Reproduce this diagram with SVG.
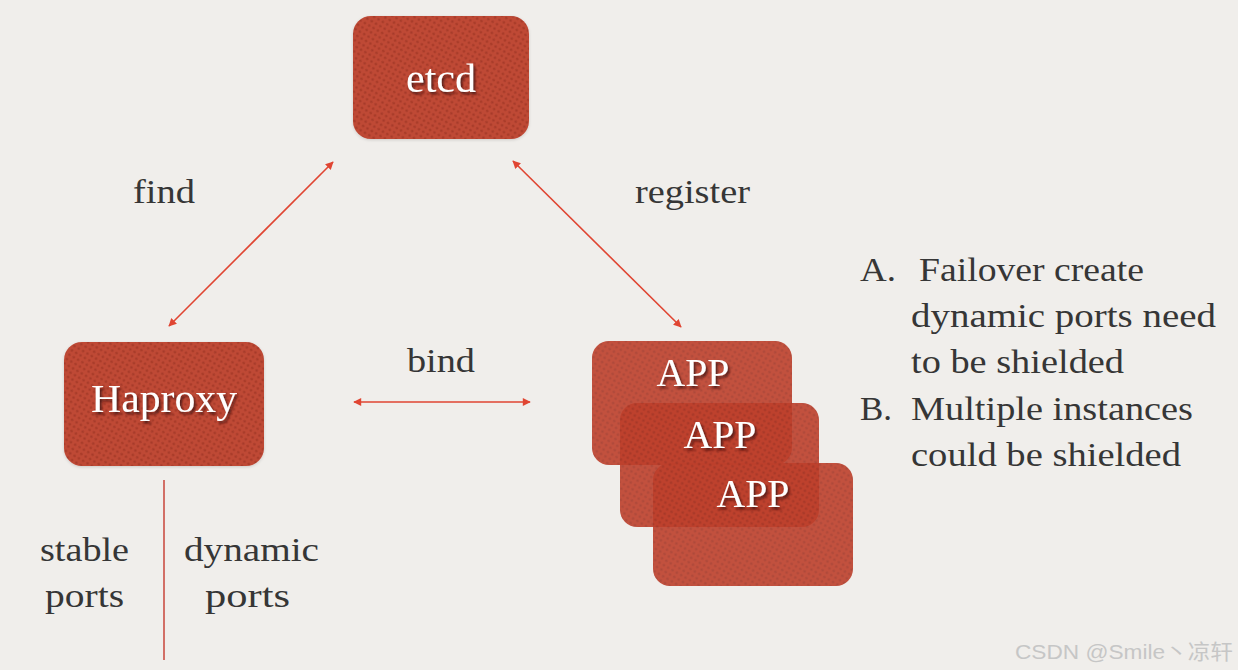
<svg xmlns="http://www.w3.org/2000/svg" width="1238" height="670" viewBox="0 0 1238 670">
<defs>
<style>
.box{fill:url(#dots);}
.app{fill:url(#dotsA);}
.lbl{font-family:"Liberation Serif","Times New Roman",serif;font-size:40px;fill:#ffffff;text-anchor:middle;filter:url(#tshadow);}
.txt{font-family:"Liberation Serif","Times New Roman",serif;font-size:34px;fill:#363636;}
.mid{text-anchor:middle;}
.conn{stroke:#e04532;stroke-width:1.6;fill:none;marker-start:url(#ah);marker-end:url(#ah);}
.wm{font-family:"Liberation Sans","Noto Sans CJK SC",sans-serif;font-size:21px;fill:#c6c6c6;}
</style>
<pattern id="dots" width="5" height="5" patternUnits="userSpaceOnUse" patternTransform="rotate(30)">
<rect width="5" height="5" fill="#bf4935"/>
<circle cx="2.5" cy="2.5" r="1.3" fill="#943022" opacity="0.6"/>
</pattern>
<pattern id="dotsA" width="5" height="5" patternUnits="userSpaceOnUse" patternTransform="rotate(30)">
<rect width="5" height="5" fill="#bd3f2b"/>
<circle cx="2.5" cy="2.5" r="1.3" fill="#943022" opacity="0.55"/>
</pattern>
<filter id="tshadow" x="-20%" y="-20%" width="140%" height="150%">
<feDropShadow dx="2" dy="2.5" stdDeviation="1.2" flood-color="#3a1008" flood-opacity="0.75"/>
</filter>
<filter id="bshadow" x="-10%" y="-10%" width="120%" height="130%">
<feDropShadow dx="0" dy="1" stdDeviation="1.5" flood-color="#000" flood-opacity="0.15"/>
</filter>
<marker id="ah" viewBox="0 0 10 10" refX="9" refY="5" markerWidth="9" markerHeight="8" markerUnits="userSpaceOnUse" orient="auto-start-reverse">
<path d="M0,0 L10,5 L0,10 z" fill="#e04532"/>
</marker>
</defs>
<rect width="1238" height="670" fill="#f0eeeb"/>

<g id="connectors">
<line class="conn" x1="169" y1="326" x2="333" y2="162"/>
<line class="conn" x1="513" y1="161" x2="681" y2="327"/>
<line class="conn" x1="354" y1="402" x2="530" y2="402"/>
<line x1="164" y1="480" x2="164" y2="660" stroke="#c9453a" stroke-width="1.5"/>
</g>

<g id="etcd">
<rect class="box" x="353" y="16" width="176" height="123" rx="18" filter="url(#bshadow)"/>
<text class="lbl" x="441" y="92" textLength="70" lengthAdjust="spacingAndGlyphs">etcd</text>
</g>

<g id="haproxy">
<rect class="box" x="64" y="342" width="200" height="124" rx="18" filter="url(#bshadow)"/>
<text class="lbl" x="164" y="412" textLength="146" lengthAdjust="spacingAndGlyphs">Haproxy</text>
</g>

<g id="app1">
<rect class="app" x="592" y="341" width="200" height="124" rx="17" opacity="0.9"/>
<text class="lbl" x="693" y="386" textLength="73" lengthAdjust="spacingAndGlyphs">APP</text>
</g>
<g id="app2">
<rect class="app" x="620" y="403" width="199" height="124" rx="17" opacity="0.9"/>
<text class="lbl" x="720" y="448" textLength="73" lengthAdjust="spacingAndGlyphs">APP</text>
</g>
<g id="app3">
<rect class="app" x="653" y="463" width="200" height="123" rx="17" opacity="0.9"/>
<text class="lbl" x="753" y="507" textLength="73" lengthAdjust="spacingAndGlyphs">APP</text>
</g>

<g id="labels">
<text class="txt" x="133" y="203" textLength="62" lengthAdjust="spacingAndGlyphs">find</text>
<text class="txt" x="635" y="203" textLength="115" lengthAdjust="spacingAndGlyphs">register</text>
<text class="txt" x="407" y="372" textLength="68" lengthAdjust="spacingAndGlyphs">bind</text>
<text class="txt mid" x="84.5" y="561" textLength="89" lengthAdjust="spacingAndGlyphs">stable</text>
<text class="txt mid" x="84.5" y="607" textLength="79" lengthAdjust="spacingAndGlyphs">ports</text>
<text class="txt mid" x="251.5" y="561" textLength="135" lengthAdjust="spacingAndGlyphs">dynamic</text>
<text class="txt mid" x="247.5" y="607" textLength="85" lengthAdjust="spacingAndGlyphs">ports</text>
</g>

<g id="notes">
<text class="txt" x="860" y="281" textLength="36" lengthAdjust="spacingAndGlyphs">A.</text>
<text class="txt" x="919" y="281" textLength="225" lengthAdjust="spacingAndGlyphs">Failover create</text>
<text class="txt" x="911" y="327" textLength="305" lengthAdjust="spacingAndGlyphs">dynamic ports need</text>
<text class="txt" x="911" y="373" textLength="213" lengthAdjust="spacingAndGlyphs">to be shielded</text>
<text class="txt" x="860" y="420" textLength="32" lengthAdjust="spacingAndGlyphs">B.</text>
<text class="txt" x="911" y="420" textLength="282" lengthAdjust="spacingAndGlyphs">Multiple instances</text>
<text class="txt" x="911" y="466" textLength="270" lengthAdjust="spacingAndGlyphs">could be shielded</text>
</g>

<text class="wm" x="1015" y="659" textLength="218" lengthAdjust="spacingAndGlyphs">CSDN @Smile丶凉轩</text>
</svg>
